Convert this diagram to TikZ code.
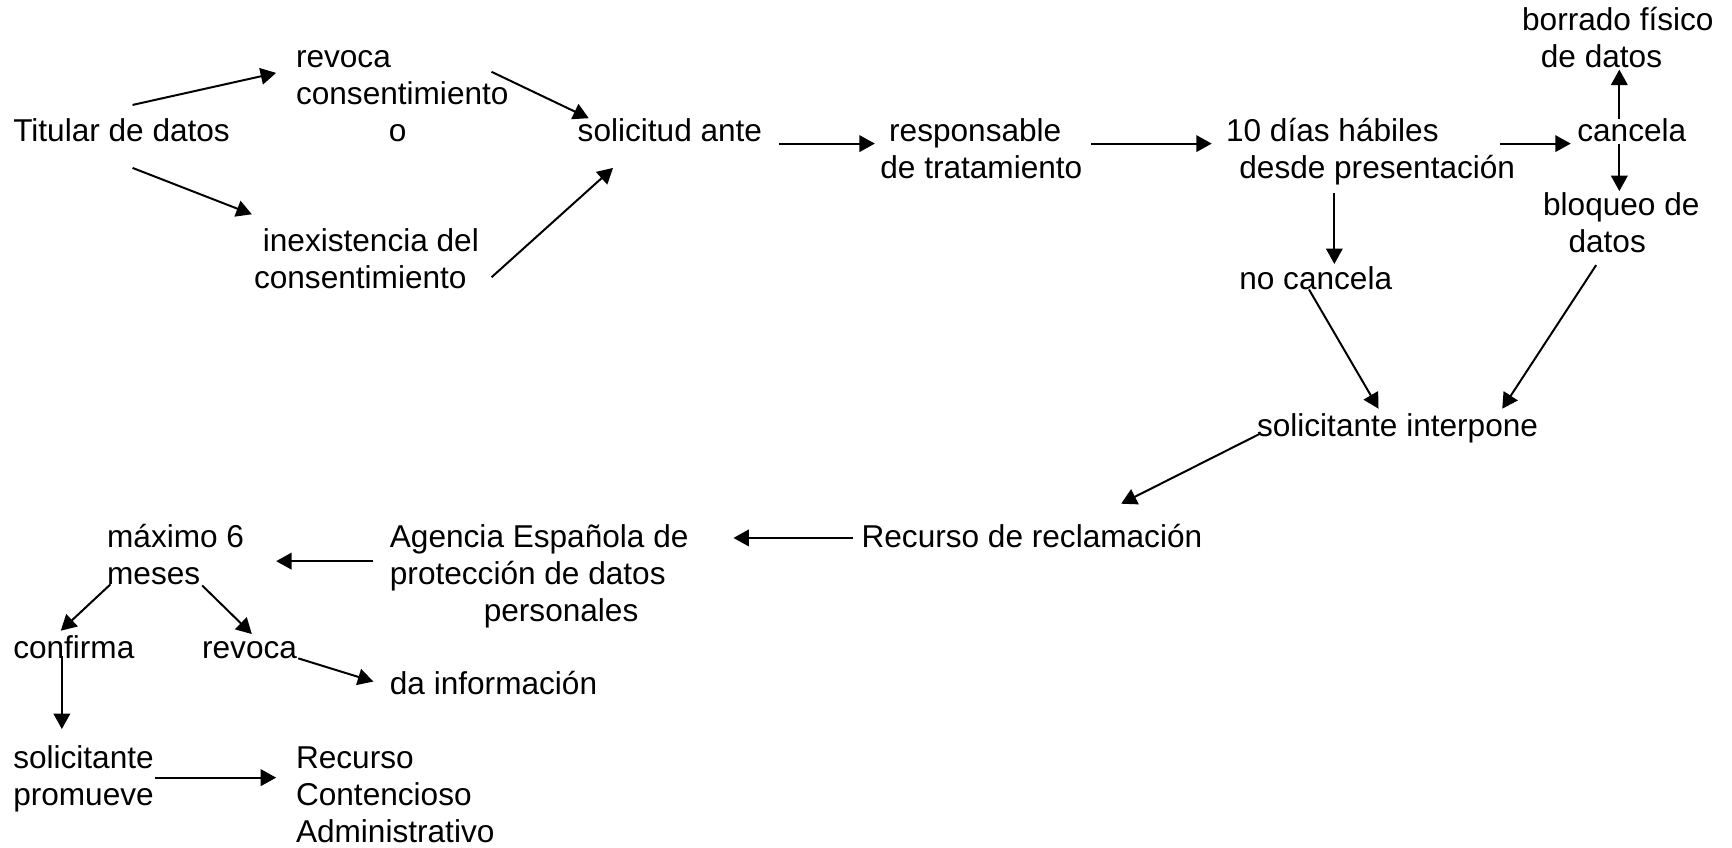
\documentclass[tikz,border=0pt]{standalone}
\usepackage{fontspec}
\setmainfont{Liberation Sans}
\usetikzlibrary{arrows.meta,calc}
\newcommand{\F}{\rule{0pt}{14.6pt}}
\tikzset{
  txt/.style={inner sep=0pt, outer sep=0pt, anchor=north west, align=left, yshift=13.6pt,
    font=\fontsize{14.3pt}{16.75pt}\selectfont},
  arr/.style={line width=0.9pt, -{Triangle[length=7pt,width=7.5pt]}}
}
\begin{document}
\begin{tikzpicture}[x=0.5pt,y=-0.5pt]
\useasboundingbox (0,0) rectangle (1568,767);
% nodes (x = left edge, y = first baseline)
\node[txt] (tit) at (12,126) {\F Titular de datos};
\node[txt] (rev) at (268,59) {\F revoca\\consentimiento\\\hspace*{42pt}o};
\node[txt] (inex) at (230,226) {\F\hspace*{4pt}inexistencia del\\consentimiento};
\node[txt] (sol) at (523,126) {\F solicitud ante};
\node[txt] (resp) at (797,126) {\F\hspace*{4pt}responsable\\de tratamiento};
\node[txt] (dias) at (1110,126) {\F 10 días hábiles\\\hspace*{6pt}desde presentación};
\node[txt] (canc) at (1428,126) {\F cancela};
\node[txt] (borr) at (1378,26) {\F borrado físico\\\hspace*{8.5pt}de datos};
\node[txt] (bloq) at (1397,193) {\F bloqueo de\\\hspace*{11.5pt}datos};
\node[txt] (noc) at (1122,260) {\F no cancela};
\node[txt] (sint) at (1138,393) {\F solicitante interpone};
\node[txt] (rrec) at (780,494) {\F Recurso de reclamación};
\node[txt] (agen) at (353,494) {\F Agencia Española de\\protección de datos\\\hspace*{42.5pt}personales};
\node[txt] (max) at (97,494) {\F máximo 6\\meses};
\node[txt] (conf) at (12,594) {\F confirma};
\node[txt] (rev2) at (183,594) {\F revoca};
\node[txt] (dai) at (353,627) {\F da información};
\node[txt] (solp) at (12,694) {\F solicitante\\promueve};
\node[txt] (rca) at (268,694) {\F Recurso\\Contencioso\\Administrativo};
% connectors
\draw[arr] ($(tit.north west)+(108,-3.8)$) -- ($(rev.north west)+(-18,34.2)$);
\draw[arr] ($(tit.north west)+(108,53.2)$) -- ($(inex.north west)+(-2,-4.8)$);
\draw[arr] ($(rev.north west)+(177,33.2)$) -- ($(sol.north west)+(10,8.2)$);
\draw[arr] ($(inex.north west)+(215,52.2)$) -- ($(sol.north west)+(32,53.2)$);
\draw[arr] ($(sol.north west)+(182,31.2)$) -- ($(resp.north west)+(-5,31.2)$);
\draw[arr] ($(resp.north west)+(191,31.2)$) -- ($(dias.north west)+(-13,31.2)$);
\draw[arr] ($(dias.north west)+(248,31.2)$) -- ($(canc.north west)+(-6,31.2)$);
\draw[arr] ($(canc.north west)+(38,9.2)$) -- ($(borr.north west)+(88,64.2)$);
\draw[arr] ($(canc.north west)+(38,31.2)$) -- ($(bloq.north west)+(69,7.2)$);
\draw[arr] ($(dias.north west)+(98,76.2)$) -- ($(noc.north west)+(86,6.2)$);
\draw[arr] ($(noc.north west)+(63,29.2)$) -- ($(sint.north west)+(110,4.2)$);
\draw[arr] ($(bloq.north west)+(48,74.2)$) -- ($(sint.north west)+(222,4.2)$);
\draw[arr] ($(sint.north west)+(2,27.2)$) -- ($(rrec.north west)+(235,-10.8)$);
\draw[arr] ($(rrec.north west)+(-8,20.2)$) -- ($(agen.north west)+(311,20.2)$);
\draw[arr] ($(agen.north west)+(-15,41.2)$) -- ($(max.north west)+(153,41.2)$);
\draw[arr] ($(max.north west)+(3,62.2)$) -- ($(conf.north west)+(43,4.2)$);
\draw[arr] ($(max.north west)+(86,63.2)$) -- ($(rev2.north west)+(45,7.2)$);
\draw[arr] ($(rev2.north west)+(87,29.2)$) -- ($(dai.north west)+(-15,17.2)$);
\draw[arr] ($(conf.north west)+(44,27.2)$) -- ($(solp.north west)+(44,-6.8)$);
\draw[arr] ($(solp.north west)+(128,37.2)$) -- ($(rca.north west)+(-18,37.2)$);
\end{tikzpicture}
\end{document}
